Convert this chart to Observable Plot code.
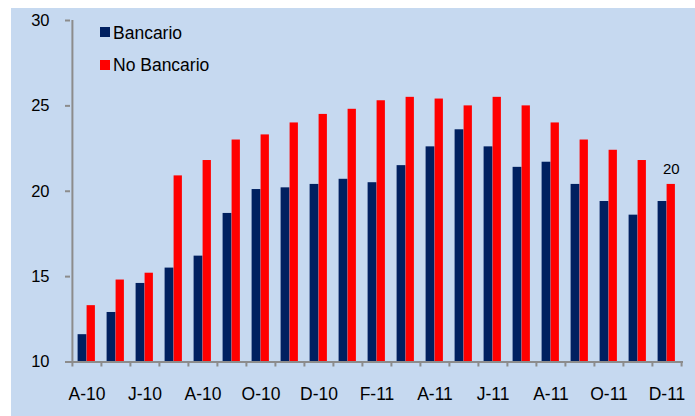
<!DOCTYPE html>
<html>
<head>
<meta charset="utf-8">
<script src="https://cdn.jsdelivr.net/npm/d3@7"></script>
<script src="https://cdn.jsdelivr.net/npm/@observablehq/plot@0.6"></script>
<style>
  html, body { margin: 0; padding: 0; background: #ffffff; }
  #wrap { position: relative; width: 695px; height: 416px; overflow: hidden; background: #ffffff; font-family: "Liberation Sans", Arial, sans-serif; }
  #chart { position: absolute; left: 11px; top: 8px; }
  .legend { position: absolute; left: 100px; font-size: 17.5px; line-height: 20px; color: #000; white-space: nowrap; }
  .legend i { position: absolute; left: 0; width: 10px; height: 9.5px; }
  .legend span { position: absolute; left: 13px; top: 0; }
</style>
</head>
<body>
<div id="wrap">
  <div id="chart"></div>
  <div class="legend" style="top:23px"><i style="top:4px;background:#002060"></i><span>Bancario</span></div>
  <div class="legend" style="top:55px"><i style="top:5px;background:#ff0000"></i><span>No Bancario</span></div>
</div>
<script>
// Monthly series, April 2010 – December 2011
const months = [
  "2010-04","2010-05","2010-06","2010-07","2010-08","2010-09","2010-10","2010-11","2010-12",
  "2011-01","2011-02","2011-03","2011-04","2011-05","2011-06","2011-07","2011-08","2011-09",
  "2011-10","2011-11","2011-12"
];
const bancario = [11.6, 12.9, 14.6, 15.5, 16.2, 18.7, 20.1, 20.2, 20.4, 20.7, 20.5, 21.5, 22.6, 23.6, 22.6, 21.4, 21.7, 20.4, 19.4, 18.6, 19.4];
const noBancario = [13.3, 14.8, 15.2, 20.9, 21.8, 23.0, 23.3, 24.0, 24.5, 24.8, 25.3, 25.5, 25.4, 25.0, 25.5, 25.0, 24.0, 23.0, 22.4, 21.8, 20.4];

// Every other month gets a label on the category axis
const tickMonths = ["2010-04","2010-06","2010-08","2010-10","2010-12","2011-02","2011-04","2011-06","2011-08","2011-10","2011-12"];
const tickLabels = ["A-10","J-10","A-10","O-10","D-10","F-11","A-11","J-11","A-11","O-11","D-11"];
const yTicks = [10, 15, 20, 25, 30];

const rows = months.map((m, i) => ({month: m, b: bancario[i], nb: noBancario[i]}));
const labelOf = new Map(tickMonths.map((m, i) => [m, tickLabels[i]]));

const W = 684, H = 408;
const mL = 59, mR = 12, mT = 12, mB = 54.5;
const bw = (W - mL - mR) / months.length;   // width of one month band
const axisGray = "#8c8c8c";

const chart = Plot.plot({
  width: W,
  height: H,
  marginLeft: mL,
  marginRight: mR,
  marginTop: mT,
  marginBottom: mB,
  style: {background: "#c6d9f0", fontFamily: "'Liberation Sans', Arial, sans-serif", color: "#000"},
  x: {type: "band", domain: months, paddingInner: 0, paddingOuter: 0, label: null},
  y: {domain: [10, 30], label: null},
  marks: [
    // bars: Bancario on the left half, No Bancario on the right half of each month
    Plot.barY(rows, {x: "month", y1: 10, y2: "b", fill: "#002060", insetLeft: 5.6, insetRight: bw / 2}),
    Plot.barY(rows, {x: "month", y1: 10, y2: "nb", fill: "#ff0000", insetLeft: bw / 2, insetRight: 6.1}),
    // axis lines
    Plot.ruleX([months[0]], {dx: -bw / 2, stroke: axisGray, strokeWidth: 2}),
    Plot.ruleY([10], {stroke: axisGray, strokeWidth: 2}),
    // y axis
    Plot.axisY(yTicks, {label: null, tickSize: 5, tickPadding: 16, stroke: axisGray, strokeWidth: 2, color: "#000", fontSize: 16.5}),
    // category boundary ticks
    Plot.axisX(months, {label: null, tickSize: 5, stroke: axisGray, strokeWidth: 2, dx: -bw / 2, tickFormat: () => ""}),
    Plot.axisX([months[months.length - 1]], {label: null, tickSize: 5, stroke: axisGray, strokeWidth: 2, dx: bw / 2, tickFormat: () => ""}),
    // month labels
    Plot.axisX(tickMonths, {label: null, tickSize: 0, tickPadding: 26, tickFormat: d => labelOf.get(d), color: "#000", fontSize: 17.5}),
    // value label on the last No Bancario bar
    Plot.text(rows.slice(-1), {x: "month", y: "nb", text: d => d3.format(".0f")(d.nb), dx: 4.3, dy: -15, fontSize: 15, fill: "#000"})
  ]
});

document.getElementById("chart").appendChild(chart);
</script>
</body>
</html>
